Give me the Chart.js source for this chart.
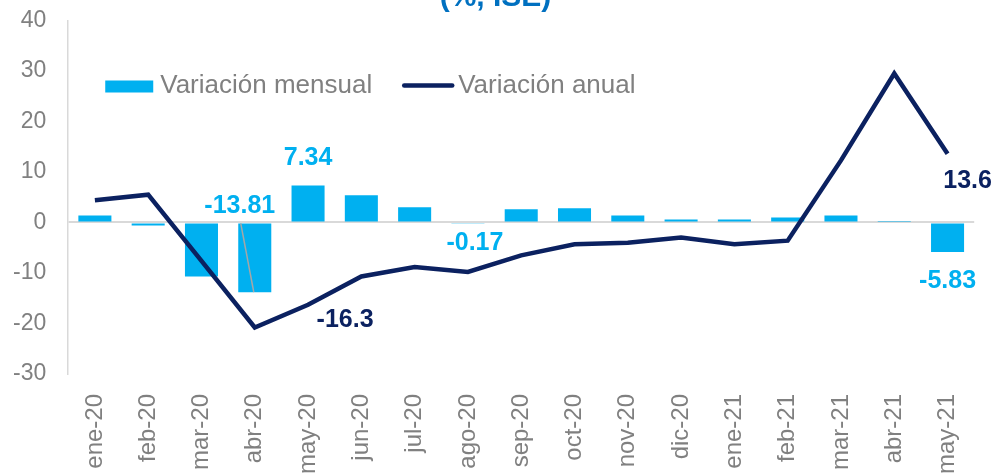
<!DOCTYPE html>
<html>
<head>
<meta charset="utf-8">
<script src="https://cdn.jsdelivr.net/npm/chart.js@4"></script>
<style>
  body { margin: 0; overflow: hidden; background: #fff; }
  #wrap { width: 997px; height: 516px; margin-top: -20px; }
</style>
</head>
<body>
<div id="wrap"><canvas id="iseChart"></canvas></div>
<script>
// ISE: variación mensual y anual (%)
var meses = ["ene-20", "feb-20", "mar-20", "abr-20", "may-20", "jun-20", "jul-20", "ago-20", "sep-20",
  "oct-20", "nov-20", "dic-20", "ene-21", "feb-21", "mar-21", "abr-21", "may-21"];
var mensual = [1.4, -0.6, -10.7, -13.81, 7.34, 5.4, 3.0, -0.17, 2.6, 2.8, 1.4, 0.6, 0.6, 1.0, 1.4, 0.3, -5.83];
var anual = [4.4, 5.5, -7.6, -20.8, -16.3, -10.7, -8.8, -9.8, -6.5, -4.3, -4.0, -3.0, -4.3, -3.6, 12.3, 29.5, 13.6];
var yTicks = [-30, -20, -10, 0, 10, 20, 30, 40];

var celeste = "#00B0F0";
var azul = "#0B2160";
var gris = "#808080";
var fuente = "'Liberation Sans', Arial, sans-serif";

// which points get a value label, and where it sits relative to the mark
var etiquetas = [
  { ds: 0, i: 3, dec: 2, dx: -15, dy: -17, fromBase: true, leader: true },
  { ds: 0, i: 4, dec: 2, dx: 0, dy: -27 },
  { ds: 0, i: 7, dec: 2, dx: 7, dy: 20 },
  { ds: 0, i: 16, dec: 2, dx: 0, dy: 29 },
  { ds: 1, i: 4, dec: 1, dx: 37, dy: 15 },
  { ds: 1, i: 16, dec: 1, dx: 20, dy: 27 }
];

var labelPlugin = {
  id: "valueLabels",
  afterDatasetsDraw: function (chart) {
    var ctx = chart.ctx;
    ctx.save();
    ctx.font = "bold 25px " + fuente;
    ctx.textAlign = "center";
    ctx.textBaseline = "middle";
    etiquetas.forEach(function (e) {
      var el = chart.getDatasetMeta(e.ds).data[e.i];
      var val = chart.data.datasets[e.ds].data[e.i];
      var y0 = e.fromBase ? el.base : el.y;
      var lx = el.x + e.dx, ly = y0 + e.dy;
      if (e.leader) {
        ctx.strokeStyle = "#A6A6A6";
        ctx.lineWidth = 1.5;
        ctx.beginPath();
        ctx.moveTo(lx + 1, el.base);
        ctx.lineTo(el.x - 1, el.y);
        ctx.stroke();
      }
      ctx.fillStyle = e.ds === 0 ? celeste : azul;
      ctx.fillText(val.toFixed(e.dec), lx, ly);
    });
    ctx.restore();
  }
};

// legend drawn inside the plot area, one row (Excel style)
var legendPlugin = {
  id: "legendInside",
  afterDraw: function (chart) {
    var ctx = chart.ctx;
    var area = chart.chartArea;
    var x = area.left + 37;
    var y = area.top + 65;
    ctx.save();
    ctx.font = "26px " + fuente;
    ctx.textBaseline = "middle";
    ctx.textAlign = "left";
    chart.data.datasets.forEach(function (ds) {
      if (ds.type === "line") {
        ctx.strokeStyle = ds.borderColor;
        ctx.lineWidth = ds.borderWidth;
        ctx.lineCap = "round";
        ctx.beginPath();
        ctx.moveTo(x + 2, y);
        ctx.lineTo(x + 50, y);
        ctx.stroke();
        x += 56;
      } else {
        ctx.fillStyle = ds.backgroundColor;
        ctx.fillRect(x, y - 5, 48, 12);
        x += 55;
      }
      ctx.fillStyle = gris;
      ctx.fillText(ds.label, x, y);
      x += ctx.measureText(ds.label).width + 30;
    });
    ctx.restore();
  }
};

new Chart("iseChart", {
  type: "bar",
  data: {
    labels: meses,
    datasets: [
      {
        label: "Variación mensual",
        data: mensual,
        backgroundColor: celeste,
        categoryPercentage: 0.62,
        barPercentage: 1,
        order: 1
      },
      {
        type: "line",
        label: "Variación anual",
        data: anual,
        borderColor: azul,
        backgroundColor: azul,
        borderWidth: 4.5,
        pointRadius: 0,
        tension: 0,
        order: 0
      }
    ]
  },
  options: {
    responsive: true,
    maintainAspectRatio: false,
    animation: false,
    layout: { padding: { left: -9, right: 22, top: 0, bottom: 2 } },
    plugins: {
      title: {
        display: true,
        text: "   (%, ISE)",
        color: "#0070C0",
        font: { family: fuente, size: 30, weight: "bold", lineHeight: 1.2 },
        padding: { top: 0, bottom: 4.5 }
      },
      legend: { display: false },
      tooltip: { enabled: false }
    },
    scales: {
      x: {
        grid: { display: false, drawTicks: false },
        border: { display: false },
        ticks: {
          color: gris,
          font: { family: fuente, size: 24 },
          minRotation: 90,
          maxRotation: 90,
          autoSkip: false,
          padding: 20
        }
      },
      y: {
        min: -30,
        max: 40,
        afterBuildTicks: function (axis) {
          axis.ticks = yTicks.map(function (v) { return { value: v }; });
        },
        grid: {
          drawTicks: false,
          lineWidth: 2,
          color: function (c) { return c.tick && c.tick.value === 0 ? "#D9D9D9" : "rgba(0,0,0,0)"; }
        },
        border: { color: "#D9D9D9", width: 1.5 },
        ticks: {
          color: gris,
          font: { family: fuente, size: 23 },
          padding: 22
        }
      }
    }
  },
  plugins: [labelPlugin, legendPlugin]
});
</script>
</body>
</html>
